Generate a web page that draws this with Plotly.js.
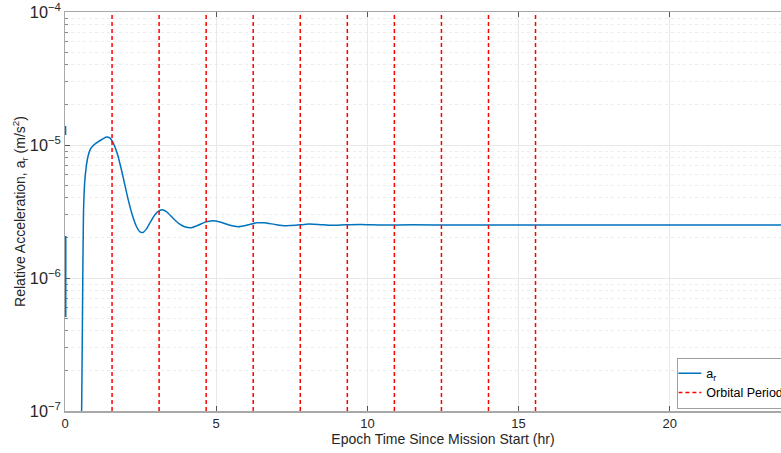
<!DOCTYPE html>
<html>
<head>
<meta charset="utf-8">
<script src="https://cdn.plot.ly/plotly-3.0.1.min.js"></script>
<style>
html, body { margin:0; padding:0; width:781px; height:453px; overflow:hidden; background:#fff; }
#chart { width:830px; height:453px; }
</style>
</head>
<body>
<div id="chart"></div>
<script>
// Relative acceleration a_r (m/s^2) vs epoch time (hr)
const initTimes = [0.02, 0.02, null, 0.025, 0.025];
const initValues = [1.39e-5, 1.19e-5, null, 2.07e-6, 5.1e-7];

const epochHours = [0.52, 0.55, 0.58, 0.61, 0.65, 0.70, 0.76, 0.84, 0.95, 1.10, 1.25, 1.36, 1.48, 1.60, 1.73, 1.86, 1.98, 2.10, 2.23, 2.36, 2.48, 2.58, 2.70, 2.83, 2.98, 3.13, 3.25, 3.38, 3.58, 3.78, 3.98, 4.18, 4.38, 4.63, 4.88, 5.13, 5.43, 5.73, 6.03, 6.33, 6.58, 6.93, 7.28, 7.63, 7.98, 8.38, 8.78, 9.28, 9.78, 10.5, 11.5, 13, 16, 20, 25];
const accelR = [5e-8, 1.0e-7, 6.0e-7, 3.0e-6, 5.2e-6, 6.8e-6, 8.2e-6, 9.3e-6, 1.0e-5, 1.06e-5, 1.11e-5, 1.15e-5, 1.13e-5, 1.03e-5, 8.6e-6, 6.6e-6, 5.0e-6, 3.8e-6, 2.95e-6, 2.45e-6, 2.22e-6, 2.20e-6, 2.35e-6, 2.65e-6, 3.0e-6, 3.22e-6, 3.25e-6, 3.12e-6, 2.8e-6, 2.55e-6, 2.42e-6, 2.39e-6, 2.48e-6, 2.63e-6, 2.70e-6, 2.64e-6, 2.50e-6, 2.43e-6, 2.50e-6, 2.60e-6, 2.60e-6, 2.53e-6, 2.47e-6, 2.49e-6, 2.54e-6, 2.53e-6, 2.49e-6, 2.51e-6, 2.52e-6, 2.50e-6, 2.51e-6, 2.50e-6, 2.50e-6, 2.50e-6, 2.50e-6];

const orbitalPeriods = [1.556, 3.112, 4.668, 6.224, 7.780, 9.336, 10.892, 12.448, 14.004, 15.560];
const yLimits = [1e-7, 1e-4];
const xLimits = [0, 25];
const xTicks = [0, 5, 10, 15, 20, 25];

const blue = '#0072BD';
const periodX = [], periodY = [];
orbitalPeriods.forEach(t => { periodX.push(t, t, null); periodY.push(yLimits[0], yLimits[1], null); });

const traces = [
  { x: initTimes, y: initValues, mode: 'lines', line: {color: blue, width: 1.5}, showlegend: false, hoverinfo: 'skip' },
  { x: epochHours, y: accelR, mode: 'lines', name: 'a<sub>r</sub>', line: {color: blue, width: 1.5, shape: 'spline', smoothing: 0.6} },
  { x: periodX, y: periodY, mode: 'lines', name: 'Orbital Periods', line: {color: '#FF0000', width: 1.5, dash: '4px,3px'} }
];

const axisColor = '#a8a8a8';
const layout = {
  width: 830, height: 453,
  margin: {l: 65, r: 9, t: 12, b: 42},
  paper_bgcolor: '#fff', plot_bgcolor: '#fff',
  font: {family: 'Liberation Sans, Arial, sans-serif', size: 13, color: '#262626'},
  showlegend: true,
  legend: {
    x: 0.81, xanchor: 'left', y: 0.006, yanchor: 'bottom',
    bgcolor: '#fff', bordercolor: '#a0a0a0', borderwidth: 1,
    font: {size: 12.5, color: '#000'}, tracegroupgap: 0, itemwidth: 30, indentation: -12
  },
  xaxis: {
    range: xLimits, tickvals: xTicks, ticks: 'inside', ticklen: 5, tickcolor: '#555',
    showline: true, linecolor: axisColor, linewidth: 1.5, mirror: 'ticks', layer: 'below traces',
    showgrid: true, gridcolor: '#e8e8e8', gridwidth: 1, zeroline: false,
    tickfont: {size: 13, color: '#262626'},
    title: {text: 'Epoch Time Since Mission Start (hr)', font: {size: 14, color: '#262626'}, standoff: 4}
  },
  yaxis: {
    type: 'log', range: [Math.log10(yLimits[0]), Math.log10(yLimits[1])], dtick: 1,
    exponentformat: 'power', ticks: 'inside', ticklen: 5, tickcolor: '#555',
    showline: true, linecolor: axisColor, linewidth: 1.5, mirror: 'ticks', layer: 'below traces',
    showgrid: true, gridcolor: '#e8e8e8', zeroline: false,
    tickfont: {size: 13, color: '#262626'},
    minor: {dtick: 'D1', ticks: 'inside', ticklen: 3, tickcolor: '#888', showgrid: true, gridcolor: '#ececec', griddash: 'dot'},
    title: {text: 'Relative Acceleration, a<sub>r</sub> (m/s<sup>2</sup>)', font: {size: 14, color: '#262626'}, standoff: 0}
  }
};

Plotly.newPlot('chart', traces, layout, {displayModeBar: false, staticPlot: true});
</script>
</body>
</html>
